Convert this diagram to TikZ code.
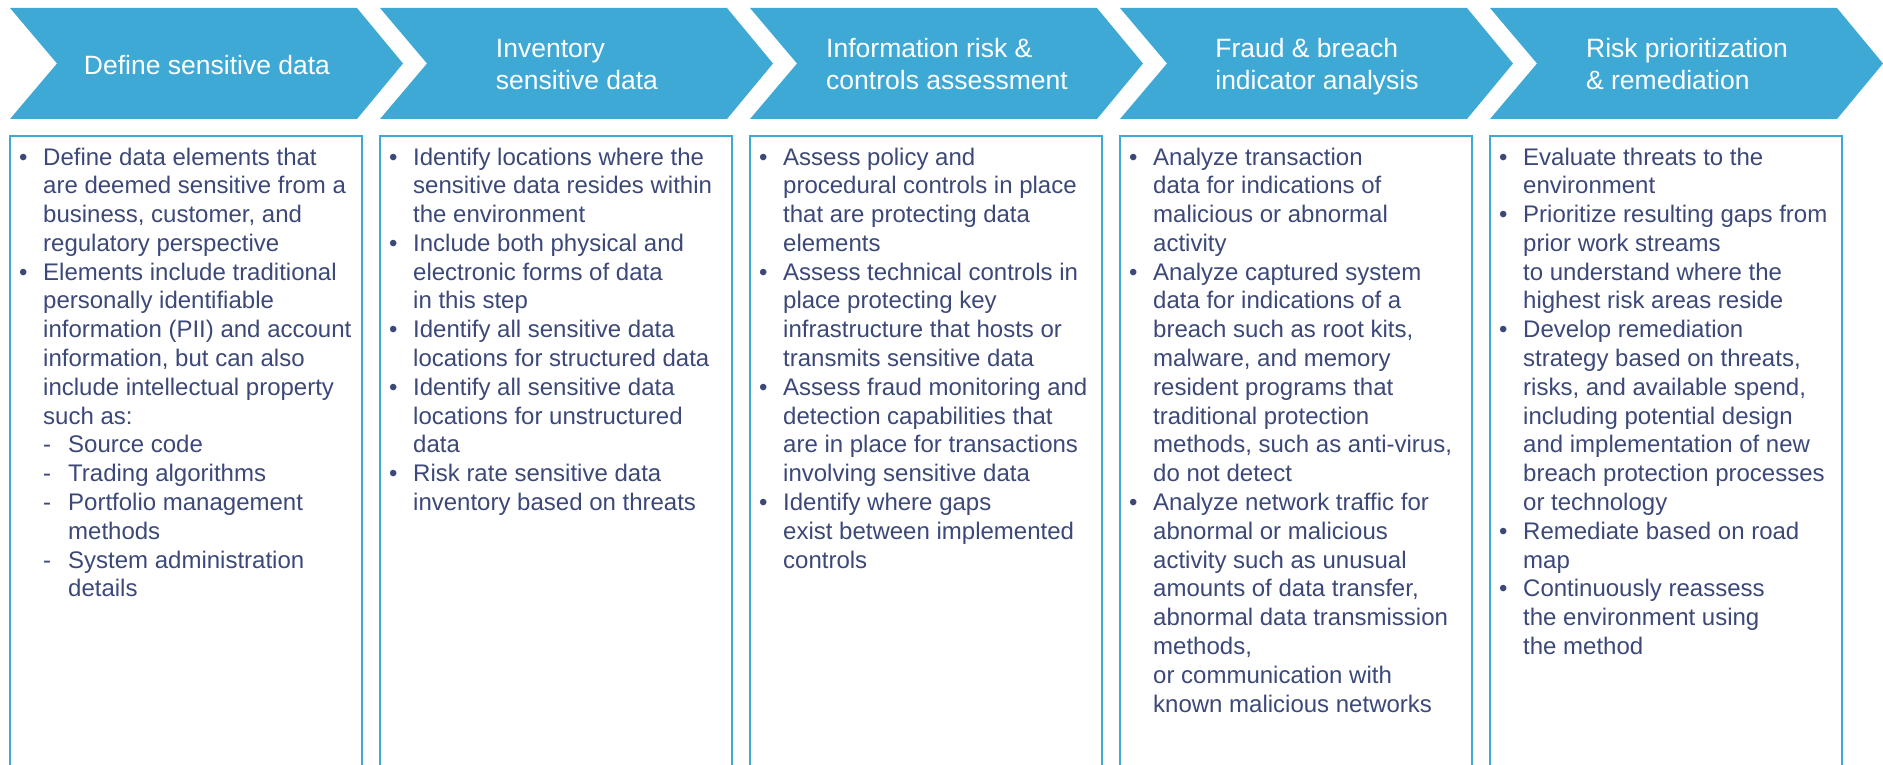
\documentclass[tikz,border=0pt]{standalone}
\usepackage{fontspec}
\setmainfont{Liberation Sans}

\definecolor{stepblue}{HTML}{3FA9D6}
\definecolor{bodyink}{HTML}{3B4878}

% line helpers for the detail lists
\newcommand\bi{\makebox[24pt][l]{\textbullet}}
\newcommand\ci{\hspace*{24pt}}
\newcommand\di{\hspace*{24pt}\makebox[25pt][l]{-}}
\newcommand\dci{\hspace*{49pt}}
\newcommand\linesblock[1]{\begin{tabular}[t]{@{}l@{}}#1\end{tabular}}

\tikzset{
  chevron/.style={fill=stepblue, draw=none},
  steplabel/.style={text=white, font=\fontsize{26.5}{32}\selectfont, inner sep=0pt, anchor=base},
  detailbox/.style={draw=stepblue, line width=2.2pt},
  detailtext/.style={text=bodyink, font=\fontsize{24}{28.8}\selectfont, inner sep=0pt, anchor=base west}
}

\begin{document}
\begin{tikzpicture}[x=1pt, y=-1pt]
\useasboundingbox (0,0) rectangle (1883,765);
\clip (0,0) rectangle (1883,765);

% process chevrons and detail boxes
\foreach \k in {0,...,4}{
  \pgfmathsetmacro{\xo}{10+370*\k}
  \fill[chevron] (\xo,8) -- ({\xo+347},8) -- ({\xo+393},63.5) -- ({\xo+347},119)
    -- (\xo,119) -- ({\xo+47},63.5) -- cycle;
  \draw[detailbox] (\xo,136) rectangle ({\xo+352},800);
}

% step titles
\node[steplabel] (h1) at (207,75) {\linesblock{Define sensitive data}};
\node[steplabel] (h2) at (577,58) {\linesblock{Inventory\\ sensitive data}};
\node[steplabel] (h3) at (947,58) {\linesblock{Information risk \&\\ controls assessment}};
\node[steplabel] (h4) at (1317,58) {\linesblock{Fraud \& breach\\ indicator analysis}};
\node[steplabel] (h5) at (1687,58) {\linesblock{Risk prioritization\\ \& remediation}};

% step details
\node[detailtext] (d1) at (19,165) {\linesblock{%
\bi Define data elements that\\
\ci are deemed sensitive from a\\
\ci business, customer, and\\
\ci regulatory perspective\\
\bi Elements include traditional\\
\ci personally identifiable\\
\ci information (PII) and account\\
\ci information, but can also\\
\ci include intellectual property\\
\ci such as:\\
\di Source code\\
\di Trading algorithms\\
\di Portfolio management\\
\dci methods\\
\di System administration\\
\dci details}};

\node[detailtext] (d2) at (389,165) {\linesblock{%
\bi Identify locations where the\\
\ci sensitive data resides within\\
\ci the environment\\
\bi Include both physical and\\
\ci electronic forms of data\\
\ci in this step\\
\bi Identify all sensitive data\\
\ci locations for structured data\\
\bi Identify all sensitive data\\
\ci locations for unstructured\\
\ci data\\
\bi Risk rate sensitive data\\
\ci inventory based on threats}};

\node[detailtext] (d3) at (759,165) {\linesblock{%
\bi Assess policy and\\
\ci procedural controls in place\\
\ci that are protecting data\\
\ci elements\\
\bi Assess technical controls in\\
\ci place protecting key\\
\ci infrastructure that hosts or\\
\ci transmits sensitive data\\
\bi Assess fraud monitoring and\\
\ci detection capabilities that\\
\ci are in place for transactions\\
\ci involving sensitive data\\
\bi Identify where gaps\\
\ci exist between implemented\\
\ci controls}};

\node[detailtext] (d4) at (1129,165) {\linesblock{%
\bi Analyze transaction\\
\ci data for indications of\\
\ci malicious or abnormal\\
\ci activity\\
\bi Analyze captured system\\
\ci data for indications of a\\
\ci breach such as root kits,\\
\ci malware, and memory\\
\ci resident programs that\\
\ci traditional protection\\
\ci methods, such as anti-virus,\\
\ci do not detect\\
\bi Analyze network traffic for\\
\ci abnormal or malicious\\
\ci activity such as unusual\\
\ci amounts of data transfer,\\
\ci abnormal data transmission\\
\ci methods,\\
\ci or communication with\\
\ci known malicious networks}};

\node[detailtext] (d5) at (1499,165) {\linesblock{%
\bi Evaluate threats to the\\
\ci environment\\
\bi Prioritize resulting gaps from\\
\ci prior work streams\\
\ci to understand where the\\
\ci highest risk areas reside\\
\bi Develop remediation\\
\ci strategy based on threats,\\
\ci risks, and available spend,\\
\ci including potential design\\
\ci and implementation of new\\
\ci breach protection processes\\
\ci or technology\\
\bi Remediate based on road\\
\ci map\\
\bi Continuously reassess\\
\ci the environment using\\
\ci the method}};
\end{tikzpicture}
\end{document}
